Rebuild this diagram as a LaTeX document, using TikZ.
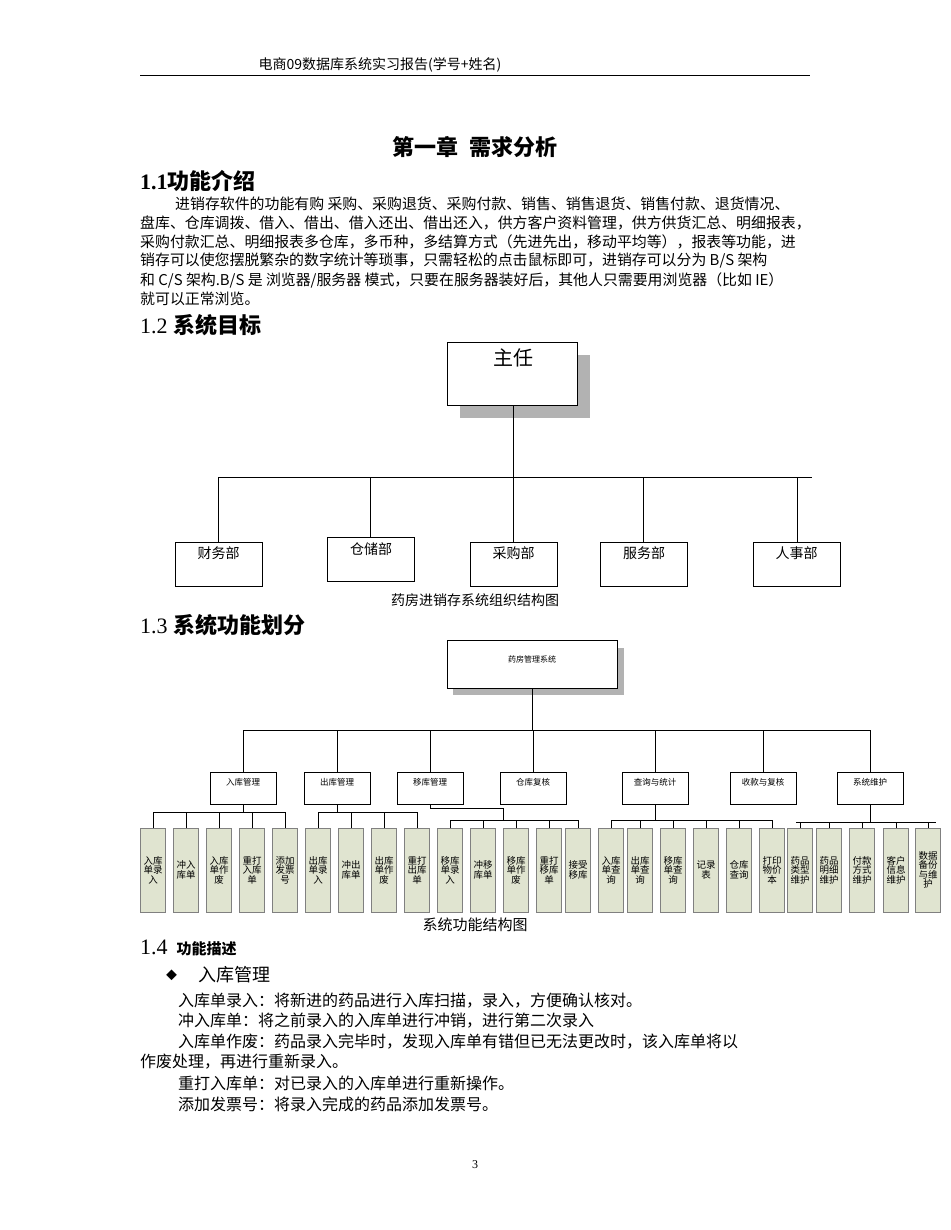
\documentclass[tikz,border=0pt]{standalone}
\usepackage{fontspec}
\setmainfont{Liberation Serif}
\newfontfamily\cjk{Noto Sans CJK SC}
\newcommand{\fs}[1]{\fontsize{#1}{#1}\selectfont}
\begin{document}
\begin{tikzpicture}[x=1pt,y=-1pt,
  txt/.style={anchor=west,inner sep=0pt,font=\cjk\fs{14.9}},
  obox/.style={draw,thin,minimum width=87pt,minimum height=44pt,inner sep=0pt},
  mbox/.style={draw,thin,minimum width=66pt,minimum height=32pt,inner sep=0pt},
  leaf/.style={draw=gray,fill={rgb,255:red,224;green,228;blue,208},minimum width=25pt,minimum height=84pt,inner sep=0pt,align=center,font=\cjk\fs{9.5}},
  ln/.style={draw,thin}]
\useasboundingbox (0,0) rectangle (950,1230);
\fill[white] (0,0) rectangle (950,1230);
% header
\node[anchor=center,font=\cjk\fs{14}] (hdr) at (380,65) {电商09数据库系统实习报告(学号+姓名)};
\draw (140,75) -- (810,75);
\node[font=\cjk\bfseries\fs{22}] (title) at (475,147) {第一章\ \ 需求分析};
\node[txt,font=\bfseries\fs{22}] (s11) at (140,181) {1.1{\cjk 功能介绍}};
\node[txt] (p1) at (175,204) {进销存软件的功能有购 采购、采购退货、采购付款、销售、销售退货、销售付款、退货情况、};
\node[txt] (p2) at (140,223) {盘库、仓库调拨、借入、借出、借入还出、借出还入，供方客户资料管理，供方供货汇总、明细报表，};
\node[txt] (p3) at (140,242) {采购付款汇总、明细报表多仓库，多币种，多结算方式（先进先出，移动平均等），报表等功能，进};
\node[txt] (p4) at (140,261) {销存可以使您摆脱繁杂的数字统计等琐事，只需轻松的点击鼠标即可，进销存可以分为 B/S 架构};
\node[txt] (p5) at (140,280) {和 C/S 架构.B/S 是 浏览器/服务器 模式，只要在服务器装好后，其他人只需要用浏览器（比如 IE）};
\node[txt] (p6) at (140,299) {就可以正常浏览。};
\node[txt,font=\fs{22}] (s12) at (140,325) {1.2 {\cjk\bfseries 系统目标}};
% org chart 1
\fill[gray!60] (460,355) rectangle (590,418);
\node[draw,fill=white,minimum width=130pt,minimum height=63pt,inner sep=0pt] (zr) at (512,373.5) {};
\node[font=\cjk\fs{20}] (zrt) at (513,358) {主任};
\node[obox] (b1) at (218.5,564) {};
\node[obox] (b2) at (371,559) {};
\node[obox] (b3) at (513.5,564) {};
\node[obox] (b4) at (644,564) {};
\node[obox] (b5) at (796.5,564) {};
\foreach \n/\t/\y in {b1/财务部/553,b2/仓储部/549,b3/采购部/553,b4/服务部/553,b5/人事部/553}
  \node[font=\cjk\fs{14}] at (\n.center |- 0,\y) {\t};
\coordinate (j0) at (513,477);
\draw (zr.south -| j0) -- (j0);
\draw (218,477) -- (812,477);
\foreach \n/\x in {b1/218,b2/370,b3/513,b4/643,b5/797}
  \draw (\x,477) -- (\n.north -| \x,0);
\node[font=\cjk\fs{14}] (cap1) at (475,600) {药房进销存系统组织结构图};
\node[txt,font=\fs{22}] (s13) at (140,625) {1.3 {\cjk\bfseries 系统功能划分}};
% chart 2
\fill[gray!60] (453,648) rectangle (624,695);
\node[draw,fill=white,minimum width=170pt,minimum height=48pt,inner sep=0pt] (root) at (532,664) {};
\node[font=\cjk\fs{8}] at (532,659) {药房管理系统};
\draw (root.south) -- (532,730);
\draw (243,730) -- (870,730);
\foreach \n/\t/\x in {m1/入库管理/243,m2/出库管理/337,m3/移库管理/430,m4/仓库复核/533,m5/查询与统计/655,m6/收款与复核/763,m7/系统维护/870}{
  \node[mbox] (\n) at (\x,788) {};
  \node[font=\cjk\fs{8.5}] at (\x,782) {\t};
  \draw (\x,730) -- (\n.north);
}
\foreach \n/\x/\t in {l1/153/入库\\单录\\入,l2/186/冲入\\库单,l3/219/入库\\单作\\废,l4/252/重打\\入库\\单,l5/285/添加\\发票\\号,
  l6/318/出库\\单录\\入,l7/351/冲出\\库单,l8/384/出库\\单作\\废,l9/417/重打\\出库\\单,l10/450/移库\\单录\\入,
  l11/483/冲移\\库单,l12/516/移库\\单作\\废,l13/549/重打\\移库\\单,l14/578/接受\\移库,
  l15/611/入库\\单查\\询,l16/640/出库\\单查\\询,l17/673/移库\\单查\\询,l18/706/记录\\表,l19/739/仓库\\查询,l20/772/打印\\物价\\本,
  l21/800/药品\\类型\\维护,l22/829/药品\\明细\\维护,l23/862/付款\\方式\\维护,l24/896/客户\\信息\\维护,l25/928/数据\\备份\\与维\\护}
  \node[leaf] (\n) at (\x,870) {\t};
% buses
\draw (m1.south) -- (243,812); \draw (153,812) -- (285,812);
\foreach \n/\x in {l1/153,l2/186,l3/219,l4/252,l5/285} \draw (\x,812) -- (\n.north);
\draw (m2.south) -- (337,812); \draw (318,812) -- (417,812);
\foreach \n/\x in {l6/318,l7/351,l8/384,l9/417} \draw (\x,812) -- (\n.north);
\draw (m3.south) -- (430,808) -- (503,808) -- (503,820); \draw (450,820) -- (578,820);
\foreach \n/\x in {l10/450,l11/483,l12/516,l13/549,l14/578} \draw (\x,820) -- (\n.north);
\draw (m5.south) -- (655,820); \draw (611,820) -- (772,820);
\foreach \n/\x in {l15/611,l16/640,l17/673,l18/706,l19/739,l20/772} \draw (\x,820) -- (\n.north);
\draw (m7.south) -- (870,822); \draw (796,822) -- (936,822);
\foreach \n/\x in {l21/800,l22/829,l23/862,l24/896,l25/928} \draw (\x,822) -- (\n.north);
\node[font=\cjk\fs{15}] (cap2) at (475,925) {系统功能结构图};
\node[txt,font=\fs{22}] (s14) at (140,948) {1.4 {\cjk\bfseries\fs{15} 功能描述}};
\node[txt,font=\cjk\fs{11}] (bul) at (166,975) {◆};
\node[txt,font=\cjk\fs{18}] (rk) at (198,975) {入库管理};
\node[txt,font=\cjk\fs{16}] (d1) at (178,1001) {入库单录入：将新进的药品进行入库扫描，录入，方便确认核对。};
\node[txt,font=\cjk\fs{16}] (d2) at (178,1021) {冲入库单：将之前录入的入库单进行冲销，进行第二次录入};
\node[txt,font=\cjk\fs{16}] (d3) at (178,1042) {入库单作废：药品录入完毕时，发现入库单有错但已无法更改时，该入库单将以};
\node[txt,font=\cjk\fs{16}] (d4) at (140,1062) {作废处理，再进行重新录入。};
\node[txt,font=\cjk\fs{16}] (d5) at (178,1083) {重打入库单：对已录入的入库单进行重新操作。};
\node[txt,font=\cjk\fs{16}] (d6) at (178,1104) {添加发票号：将录入完成的药品添加发票号。};
\node[font=\fs{12}] (pg) at (475,1165) {3};
\end{tikzpicture}
\end{document}
